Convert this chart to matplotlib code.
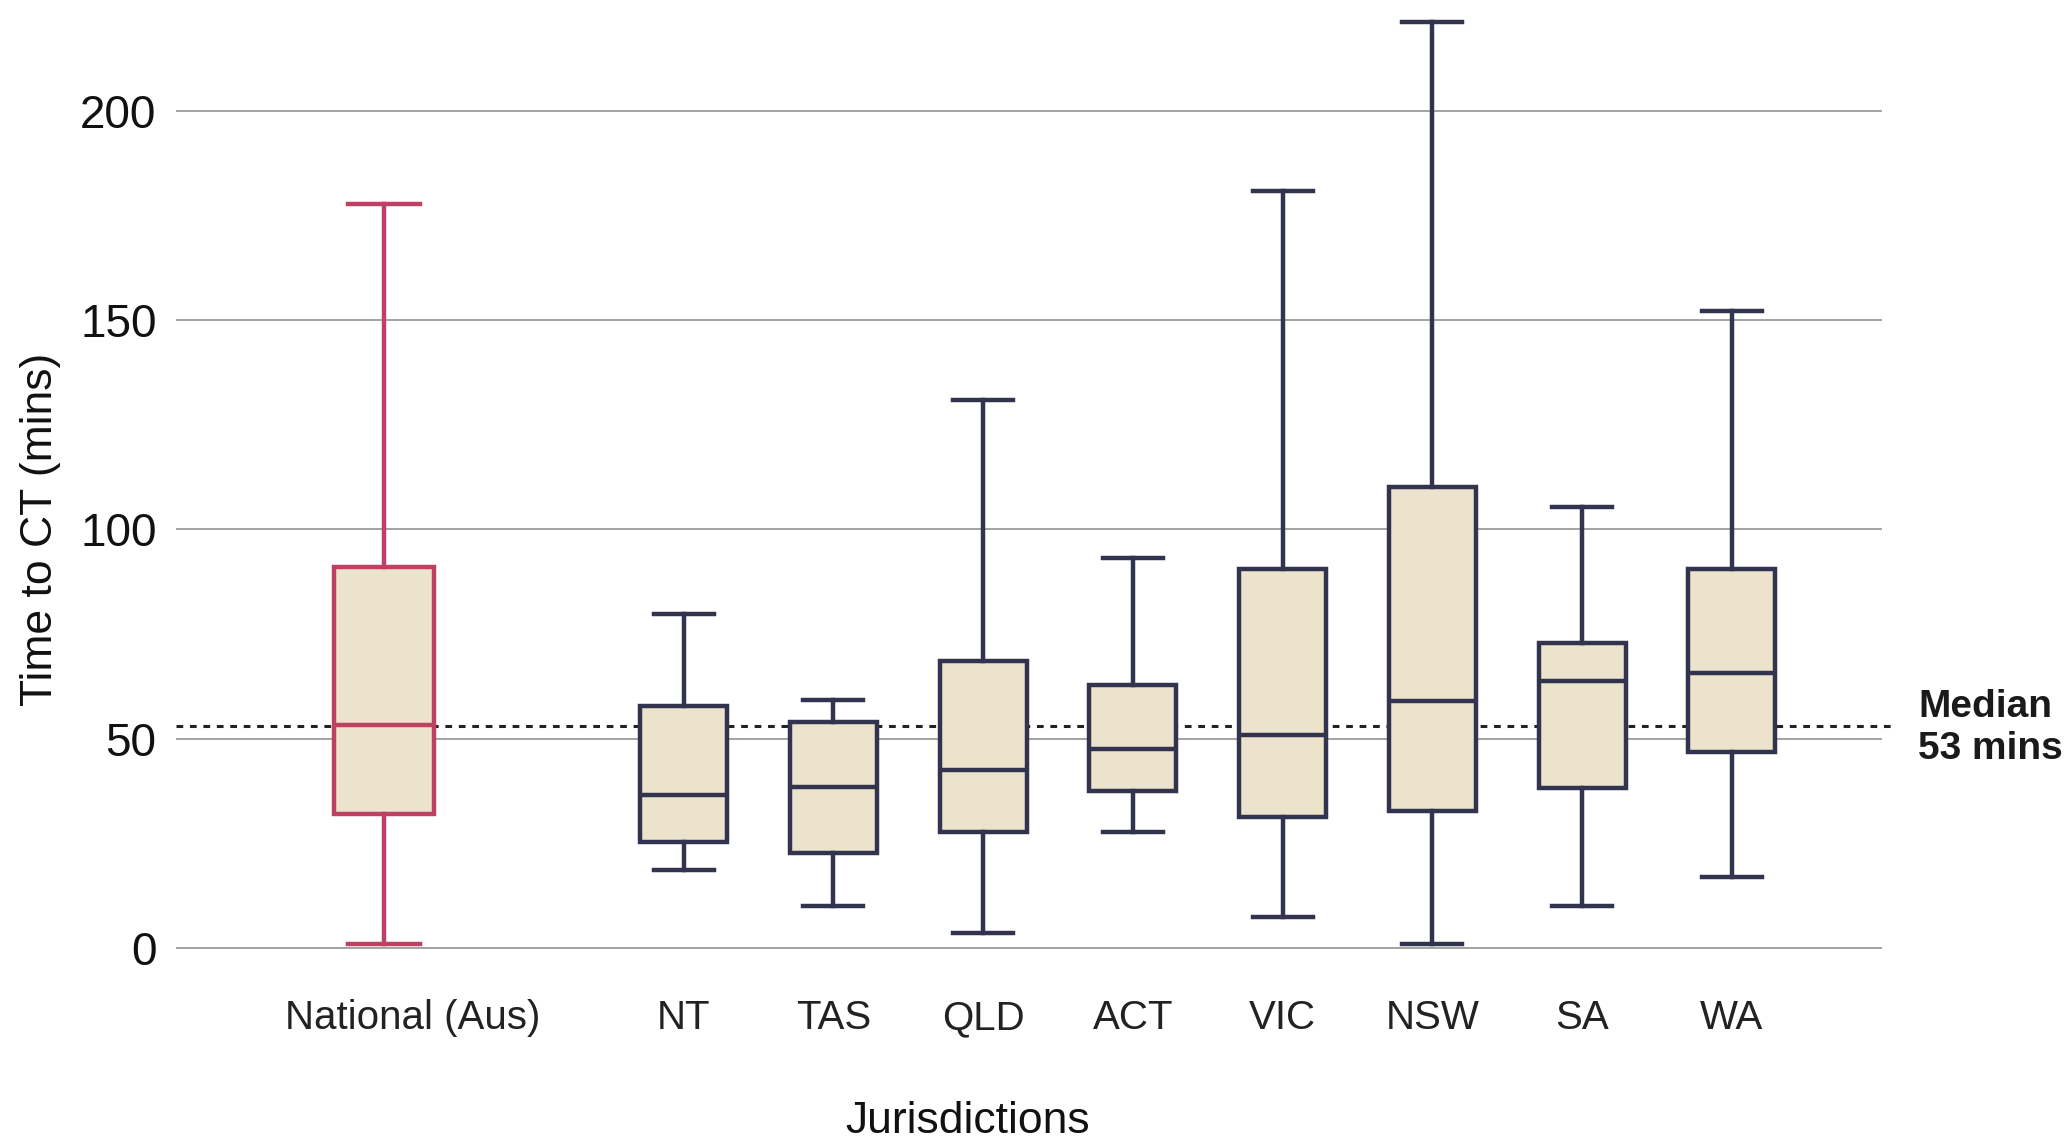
import matplotlib
matplotlib.use("Agg")
import matplotlib.pyplot as plt
import matplotlib.transforms as mtransforms

# values (minutes)
labels = ['National (Aus)', 'NT', 'TAS', 'QLD', 'ACT', 'VIC', 'NSW', 'SA', 'WA']
whislo = [1.0, 18.6, 10.1, 3.5, 27.8, 7.3, 0.9, 10.1, 17.0]
q1 = [31.9, 25.2, 22.7, 27.8, 37.5, 31.2, 32.8, 38.2, 46.7]
med = [53.3, 36.6, 38.5, 42.6, 47.6, 50.8, 59.0, 63.7, 65.6]
q3 = [90.9, 57.7, 53.9, 68.5, 62.8, 90.5, 110.1, 72.9, 90.5]
whishi = [177.6, 79.8, 59.3, 130.9, 93.1, 180.8, 221.1, 105.4, 152.1]
positions = [0, 2, 3, 4, 5, 6, 7, 8, 9]
national_median = 53
yticks = [0, 50, 100, 150, 200]

navy = '#31334F'
red = '#BE4062'
fill = '#EBE3CB'
grid_col = '#A3A3A3'

plt.rcParams['font.family'] = ['Liberation Sans', 'DejaVu Sans']

fig = plt.figure(figsize=(20.7, 11.46), dpi=100)
ax = fig.add_axes([0.085, 0.1545, 0.824, 0.8403])

stats = []
for i in range(len(labels)):
    stats.append({'label': labels[i], 'whislo': whislo[i], 'q1': q1[i], 'med': med[i],
                  'q3': q3[i], 'whishi': whishi[i], 'fliers': []})

for i in range(len(stats)):
    c = red if i == 0 else navy
    w = 0.67 if i == 0 else 0.58
    ax.bxp([stats[i]], positions=[positions[i]], widths=w, patch_artist=True,
           showfliers=False, capwidths=[0.48 if i == 0 else 0.4],
           boxprops=dict(facecolor=fill, edgecolor=c, linewidth=3.2),
           medianprops=dict(color=c, linewidth=3.2),
           whiskerprops=dict(color=c, linewidth=3.2),
           capprops=dict(color=c, linewidth=3.2))

ax.set_xlim(-1.39, 10.0)
ax.set_ylim(-5, 225)
ax.set_yticks(yticks)
ax.yaxis.grid(True, color=grid_col, linewidth=1.4)
ax.set_axisbelow(True)
for s in ax.spines.values():
    s.set_visible(False)
ax.tick_params(axis='y', length=0, pad=14, labelsize=33, labelcolor='#111111')
ax.tick_params(axis='x', length=0, pad=22, labelsize=29, labelcolor='#222222')
ax.set_xticks(positions)
ax.set_xticklabels(labels)
# national label sits a little to the right of its box
off = mtransforms.ScaledTranslation(0.29, 0, fig.dpi_scale_trans)
lab0 = ax.get_xticklabels()[0]
lab0.set_transform(lab0.get_transform() + off)

ax.plot([-1.39, 10.08], [national_median, national_median], color='#222222',
        linestyle=(0, (2.2, 2.2)), linewidth=2.2, clip_on=False, zorder=1)
ax.text(10.245, national_median - 0.5, 'Median\n%d mins' % national_median, fontsize=28,
        fontweight='bold', va='center', ha='left', linespacing=1.2, color='#1a1a1a')

fig.text(0.0198, 0.538, 'Time to CT (mins)', rotation=90, fontsize=32,
         va='center', ha='center', color='#111111')
fig.text(0.4675, 0.021, 'Jurisdictions', fontsize=32, va='center', ha='center',
         color='#111111')

fig.savefig('out.png', dpi=100)
